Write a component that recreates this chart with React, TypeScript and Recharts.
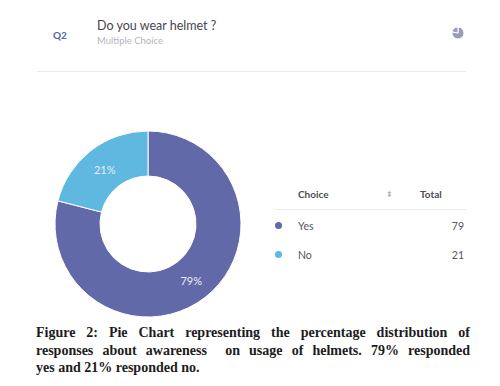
import { PieChart, Pie, Cell } from "recharts";

const choices = ["Yes", "No"];
const totals = [79, 21];
const sliceColors = ["#6269a9", "#5fb8df"];
const iconValues = [78, 22];
const captionLines = [
  "Figure 2: Pie Chart representing the percentage distribution of",
  "responses about awareness  on usage of helmets. 79% responded",
  "yes and 21% responded no.",
];

const data = choices.map((name, i) => ({ name, value: totals[i] }));
const iconData = iconValues.map((value, i) => ({ name: "part" + i, value }));

const RAD = Math.PI / 180;
const lato = "Lato, sans-serif";
const noMargin = { top: 0, right: 0, bottom: 0, left: 0 };

function renderPercent(props: any) {
  const { cx, cy, midAngle, innerRadius, outerRadius, percent } = props;
  const r = (innerRadius + outerRadius) / 2;
  const x = cx + r * Math.cos(-midAngle * RAD);
  const y = cy + r * Math.sin(-midAngle * RAD) + 1;
  return (
    <text x={x} y={y} fill="#e8ecf5" fontSize={11} fontFamily={lato} textAnchor="middle" dominantBaseline="central">
      {Math.round(percent * 100)}%
    </text>
  );
}

function Txt(props: { x: number; y: number; size: number; color: string; weight?: number; right?: boolean; children: any }) {
  const { x, y, size, color, weight, right, children } = props;
  return (
    <div
      style={{
        position: "absolute",
        top: y,
        left: right ? undefined : x,
        right: right ? 500 - x : undefined,
        fontFamily: lato,
        fontSize: size,
        color,
        fontWeight: weight || 400,
        lineHeight: "16px",
        whiteSpace: "nowrap",
      }}
    >
      {children}
    </div>
  );
}

function Rule(props: { x: number; y: number; w: number }) {
  return <div style={{ position: "absolute", left: props.x, top: props.y, width: props.w, height: 1, background: "#ebebee" }} />;
}

function Dot(props: { y: number; color: string }) {
  return (
    <div style={{ position: "absolute", left: 275, top: props.y, width: 7, height: 7, borderRadius: "50%", background: props.color }} />
  );
}

export default function App() {
  return (
    <div style={{ position: "relative", width: 500, height: 386, margin: -8, background: "#fff", overflow: "hidden" }}>
      <div style={{ position: "absolute", left: 0, top: 0 }}>
        <PieChart width={300} height={330} margin={noMargin}>
          <Pie
            data={data}
            dataKey="value"
            cx={148}
            cy={224}
            innerRadius={48}
            outerRadius={93}
            startAngle={90}
            endAngle={-270}
            stroke="#fff"
            strokeWidth={1}
            label={renderPercent}
            labelLine={false}
            isAnimationActive={false}
          >
            {data.map((d, i) => (
              <Cell key={d.name} fill={sliceColors[i]} />
            ))}
          </Pie>
        </PieChart>
      </div>

      <div style={{ position: "absolute", left: 448, top: 23 }}>
        <PieChart width={20} height={20} margin={noMargin}>
          <Pie
            data={iconData}
            dataKey="value"
            cx={10}
            cy={10}
            innerRadius={0}
            outerRadius={6}
            startAngle={90}
            endAngle={-270}
            stroke="#fff"
            strokeWidth={1}
            isAnimationActive={false}
          >
            {iconData.map((d) => (
              <Cell key={d.name} fill="#9a9cb8" />
            ))}
          </Pie>
        </PieChart>
      </div>

      <Txt x={53} y={27} size={10} color="#5a62a8" weight={700}>Q2</Txt>
      <Txt x={97} y={18} size={12.5} color="#46464f">Do you wear helmet ?</Txt>
      <Txt x={97} y={33} size={9.5} color="#b4b5c0">Multiple Choice</Txt>
      <Rule x={37} y={71} w={429} />

      <Txt x={298} y={186} size={10} color="#4c4c55" weight={700}>Choice</Txt>
      <Txt x={386} y={186} size={8} color="#b4b5c0">⬍</Txt>
      <Txt x={420} y={186} size={10} color="#4c4c55" weight={700}>Total</Txt>
      <Rule x={274} y={209} w={192} />

      <Dot y={222} color={sliceColors[0]} />
      <Txt x={298} y={218} size={10.5} color="#55555e">{choices[0]}</Txt>
      <Txt x={464} y={218} size={10.5} color="#55555e" right>{totals[0]}</Txt>

      <Dot y={251} color={sliceColors[1]} />
      <Txt x={298} y={247} size={10.5} color="#55555e">{choices[1]}</Txt>
      <Txt x={464} y={247} size={10.5} color="#55555e" right>{totals[1]}</Txt>

      <div
        style={{
          position: "absolute",
          left: 36,
          top: 324,
          width: 434,
          fontFamily: "'Liberation Serif', serif",
          fontWeight: 700,
          fontSize: 14,
          lineHeight: "17.5px",
          color: "#1c1c1c",
        }}
      >
        {captionLines.map((line, i) => (
          <div
            key={i}
            style={{ textAlign: i < 2 ? "justify" : "left", textAlignLast: i < 2 ? "justify" : "left", whiteSpace: "pre-wrap" }}
          >
            {line}
          </div>
        ))}
      </div>
    </div>
  );
}
